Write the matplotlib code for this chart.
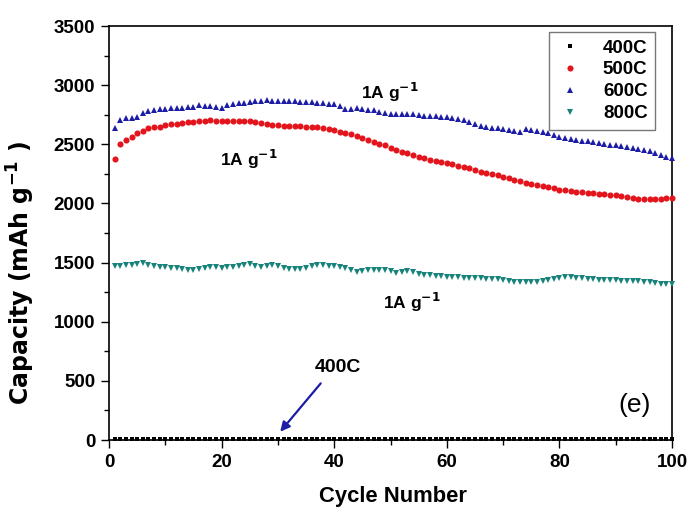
import matplotlib
matplotlib.use("Agg")
import matplotlib.pyplot as plt
from matplotlib.ticker import MultipleLocator

plt.rcParams['font.family'] = ['Liberation Sans', 'DejaVu Sans']

cycles = list(range(1, 101))

cap_400 = [8, 10, 9, 11, 8, 9, 10, 12, 9, 8, 10, 11, 9, 8, 10, 9, 11, 10, 8, 9,
           10, 9, 8, 11, 10, 9, 8, 10, 9, 11, 10, 8, 9, 10, 9, 11, 10, 9, 8, 10,
           9, 11, 10, 8, 9, 10, 9, 8, 11, 10, 9, 8, 10, 9, 11, 10, 8, 9, 10, 9,
           11, 10, 9, 8, 10, 9, 11, 10, 8, 9, 10, 9, 8, 11, 10, 9, 8, 10, 9, 11,
           10, 8, 9, 10, 9, 11, 10, 9, 8, 10, 9, 11, 10, 8, 9, 10, 9, 8, 11, 10]

cap_500 = [2375, 2500, 2535, 2565, 2595, 2615, 2635, 2642, 2650, 2660,
           2668, 2675, 2682, 2688, 2692, 2698, 2700, 2702, 2700, 2698,
           2696, 2695, 2694, 2694, 2693, 2690, 2683, 2672, 2663, 2660,
           2658, 2657, 2656, 2655, 2650, 2646, 2642, 2635, 2628, 2620,
           2608, 2596, 2585, 2568, 2552, 2536, 2522, 2505, 2490, 2470,
           2452, 2438, 2424, 2410, 2396, 2382, 2368, 2358, 2348, 2340,
           2330, 2320, 2310, 2296, 2282, 2268, 2258, 2250, 2240, 2225,
           2212, 2198, 2188, 2175, 2168, 2158, 2146, 2138, 2128, 2116,
           2110, 2105, 2100, 2097, 2092, 2087, 2082, 2078, 2072, 2068,
           2063, 2057, 2050, 2040, 2035, 2034, 2034, 2035, 2042, 2050]

cap_600 = [2640, 2705, 2720, 2725, 2730, 2765, 2780, 2790, 2795, 2800,
           2805, 2805, 2810, 2812, 2815, 2830, 2825, 2822, 2815, 2810,
           2835, 2840, 2845, 2850, 2860, 2862, 2865, 2872, 2870, 2868,
           2866, 2864, 2862, 2860, 2856, 2854, 2850, 2846, 2842, 2838,
           2820, 2795, 2800, 2805, 2798, 2790, 2788, 2775, 2762, 2758,
           2760, 2758, 2756, 2755, 2748, 2742, 2738, 2735, 2732, 2728,
           2722, 2715, 2705, 2692, 2670, 2655, 2648, 2640, 2635, 2630,
           2622, 2612, 2605, 2626, 2618, 2610, 2600, 2592, 2575, 2560,
           2552, 2545, 2538, 2530, 2525, 2518, 2510, 2502, 2495, 2490,
           2482, 2474, 2466, 2458, 2450, 2440, 2425, 2410, 2395, 2385]

cap_800 = [1472, 1475, 1479, 1482, 1488, 1494, 1480, 1470, 1465, 1460,
           1455, 1450, 1445, 1440, 1437, 1445, 1455, 1465, 1462, 1458,
           1462, 1466, 1472, 1480, 1486, 1475, 1465, 1472, 1480, 1468,
           1452, 1448, 1444, 1443, 1455, 1468, 1478, 1480, 1474, 1470,
           1462, 1450, 1435, 1424, 1428, 1434, 1438, 1437, 1436, 1425,
           1416, 1422, 1426, 1423, 1405, 1395, 1392, 1388, 1384, 1381,
           1378, 1375, 1372, 1370, 1368, 1367, 1365, 1362, 1358, 1352,
           1345, 1338, 1337, 1336, 1337, 1338, 1342, 1350, 1358, 1368,
           1375, 1375, 1372, 1368, 1363, 1358, 1356, 1355, 1352, 1350,
           1348, 1347, 1344, 1341, 1338, 1332, 1325, 1320, 1318, 1316]

labels = ['400C', '500C', '600C', '800C']
colors = ['#000000', '#e3141b', '#1c1ca6', '#17837a']
markers = ['s', 'o', '^', 'v']
msizes = [2.6, 4.4, 4.4, 4.4]
series = [cap_400, cap_500, cap_600, cap_800]

fig = plt.figure(figsize=(6.9, 5.12), dpi=100)
ax = fig.add_axes([0.158, 0.1406, 0.816, 0.8086])

for vals, lab, c, m, ms in zip(series, labels, colors, markers, msizes):
    ax.plot(cycles, vals, linestyle='none', marker=m, markersize=ms,
            color=c, markeredgewidth=0, label=lab, clip_on=False, zorder=3)

ax.set_xlim(0, 100)
ax.set_ylim(0, 3500)
ax.xaxis.set_major_locator(MultipleLocator(20))
ax.xaxis.set_minor_locator(MultipleLocator(10))
ax.yaxis.set_major_locator(MultipleLocator(500))
ax.yaxis.set_minor_locator(MultipleLocator(250))
ax.tick_params(which='both', direction='out', top=False, right=False,
               width=1.0, labelsize=13.5)
ax.tick_params(which='major', length=6, pad=4)
ax.tick_params(which='minor', length=3.5)
for lbl in ax.get_xticklabels() + ax.get_yticklabels():
    lbl.set_fontweight('bold')
for s in ax.spines.values():
    s.set_linewidth(1.2)

ax.set_xlabel('Cycle Number', fontsize=15.8, fontweight='bold')
ax.xaxis.set_label_coords(0.504, -0.11)
ax.set_ylabel('Capacity (mAh g$^{\\mathbf{-1}}$ )', fontsize=17, fontweight='bold',
              family=['DejaVu Sans'])
ax.yaxis.set_label_coords(-0.128, 0.403)

leg = ax.legend(loc='upper right', bbox_to_anchor=(0.970, 0.9855), borderaxespad=0,
                frameon=True, fancybox=False, edgecolor='#555555', fontsize=13.5,
                handletextpad=1.0, borderpad=0.4, labelspacing=0.25,
                handlelength=1.5, markerscale=1.0)
leg.get_frame().set_linewidth(1.0)
for t in leg.get_texts():
    t.set_fontweight('bold')

tkw = dict(fontsize=12.5, fontweight='bold', ha='center', va='center')
ax.text(49.9, 2942, '1A g$^{\\mathbf{-1}}$', **tkw)
ax.text(24.9, 2376, '1A g$^{\\mathbf{-1}}$', **tkw)
ax.text(53.7, 1162, '1A g$^{\\mathbf{-1}}$', **tkw)
ax.text(40.6, 613, '400C', fontsize=14, fontweight='bold', ha='center', va='center')
ax.annotate('', xy=(30.4, 70), xytext=(37.6, 479),
            arrowprops=dict(arrowstyle='-|>', color='#1c1ca6', lw=1.6,
                            mutation_scale=14, shrinkA=0, shrinkB=0))
ax.text(93.3, 292, '(e)', fontsize=19, ha='center', va='center')

fig.savefig('out.png', dpi=100)
